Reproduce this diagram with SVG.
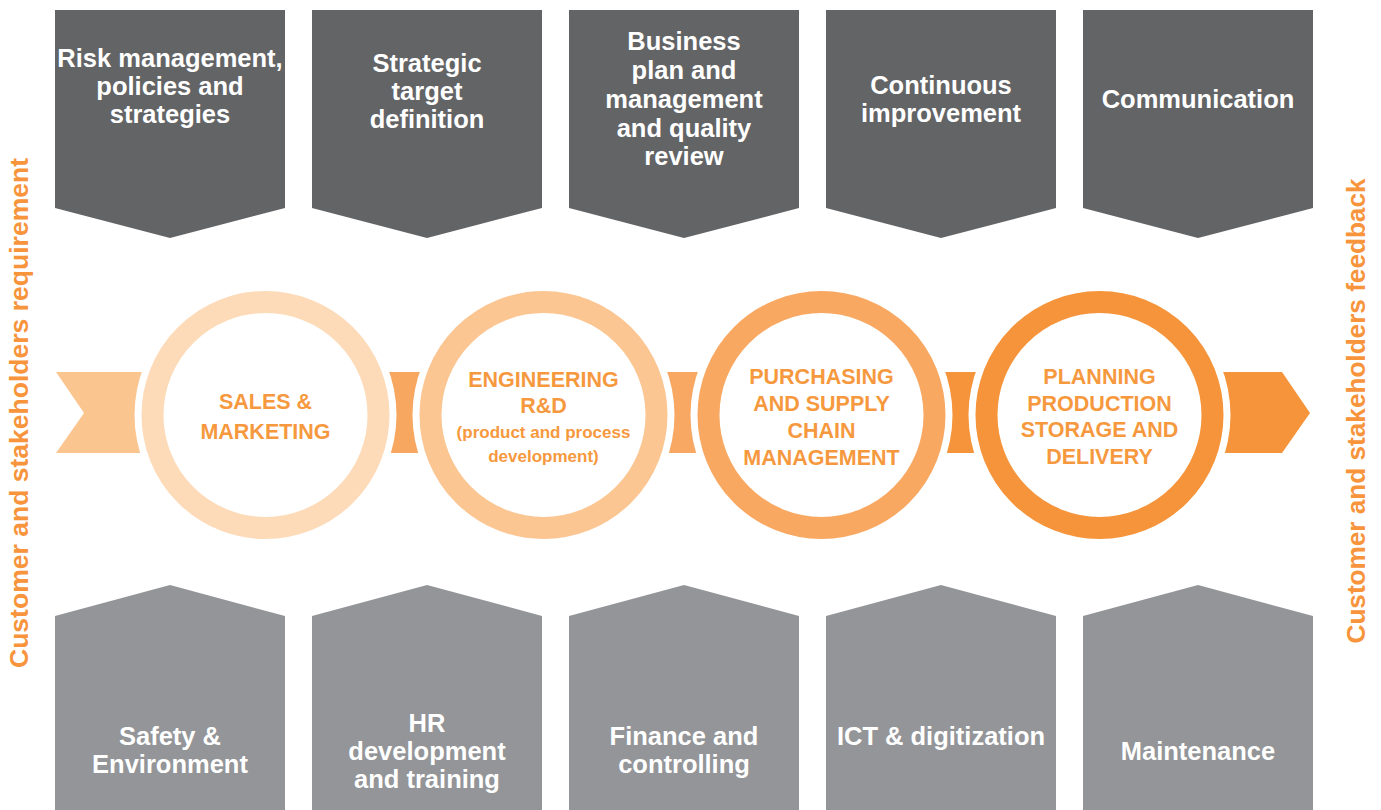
<svg xmlns="http://www.w3.org/2000/svg" width="1381" height="810" viewBox="0 0 1381 810">
<style>
  .top{fill:#636466}
  .bot{fill:#939598}
  .bt{font-family:"Liberation Sans",Arial,sans-serif;font-weight:bold;font-size:25.5px;fill:#ffffff;text-anchor:middle}
  .ct{font-family:"Liberation Sans",Arial,sans-serif;font-weight:bold;font-size:21.5px;fill:#f6993e;text-anchor:middle}
  .cs{font-size:17px}
  .side{font-family:"Liberation Sans",Arial,sans-serif;font-weight:bold;font-size:26px;fill:#f7943c;text-anchor:middle}
  .gap{fill:#ffffff}
  .ring{fill:#ffffff;stroke-width:22}
</style>
<rect width="1381" height="810" fill="#ffffff"/>

<!-- side labels -->
<text class="side" transform="translate(28,413) rotate(-90)" textLength="510" lengthAdjust="spacingAndGlyphs">Customer and stakeholders requirement</text>
<text class="side" transform="translate(1365,411) rotate(-90)" textLength="465" lengthAdjust="spacingAndGlyphs">Customer and stakeholders feedback</text>

<!-- top boxes -->
<g id="top1"><path class="top" d="M55,10 H285 V208 L170,238 L55,208 Z"/>
<text class="bt" x="170" y="67">Risk management,</text><text class="bt" x="170" y="95">policies and</text><text class="bt" x="170" y="123">strategies</text></g>
<g id="top2"><path class="top" d="M312,10 H542 V208 L427,238 L312,208 Z"/>
<text class="bt" x="427" y="72">Strategic</text><text class="bt" x="427" y="100">target</text><text class="bt" x="427" y="128">definition</text></g>
<g id="top3"><path class="top" d="M569,10 H799 V208 L684,238 L569,208 Z"/>
<text class="bt" x="684" y="50">Business</text><text class="bt" x="684" y="79">plan and</text><text class="bt" x="684" y="108">management</text><text class="bt" x="684" y="137">and quality</text><text class="bt" x="684" y="165">review</text></g>
<g id="top4"><path class="top" d="M826,10 H1056 V208 L941,238 L826,208 Z"/>
<text class="bt" x="941" y="94">Continuous</text><text class="bt" x="941" y="122">improvement</text></g>
<g id="top5"><path class="top" d="M1083,10 H1313 V208 L1198,238 L1083,208 Z"/>
<text class="bt" x="1198" y="108">Communication</text></g>

<!-- bottom boxes -->
<g id="bot1"><path class="bot" d="M55,616 L170,585 L285,616 V811 H55 Z"/>
<text class="bt" x="170" y="745">Safety &amp;</text><text class="bt" x="170" y="773">Environment</text></g>
<g id="bot2"><path class="bot" d="M312,616 L427,585 L542,616 V811 H312 Z"/>
<text class="bt" x="427" y="732">HR</text><text class="bt" x="427" y="760">development</text><text class="bt" x="427" y="788">and training</text></g>
<g id="bot3"><path class="bot" d="M569,616 L684,585 L799,616 V811 H569 Z"/>
<text class="bt" x="684" y="745">Finance and</text><text class="bt" x="684" y="773">controlling</text></g>
<g id="bot4"><path class="bot" d="M826,616 L941,585 L1056,616 V811 H826 Z"/>
<text class="bt" x="941" y="745">ICT &amp; digitization</text></g>
<g id="bot5"><path class="bot" d="M1083,616 L1198,585 L1313,616 V811 H1083 Z"/>
<text class="bt" x="1198" y="760">Maintenance</text></g>

<!-- connectors (flow band) -->
<g id="connectors">
  <path d="M56,372 H265 V453 H56 L84,413 Z" fill="#fbc590"/>
  <rect x="265" y="372" width="279" height="81" fill="#f8a761"/>
  <rect x="543" y="372" width="279" height="81" fill="#f8a862"/>
  <rect x="821" y="372" width="279" height="81" fill="#f5943a"/>
  <path d="M1099,372 H1282 L1310,413 L1282,453 H1099 Z" fill="#f5943a"/>
  <circle class="gap" cx="265.5" cy="415" r="131"/>
  <circle class="gap" cx="543.5" cy="415" r="131"/>
  <circle class="gap" cx="821.5" cy="415" r="131"/>
  <circle class="gap" cx="1099.5" cy="415" r="131"/>
</g>

<!-- circles -->
<g id="c1"><circle class="ring" cx="265.5" cy="415" r="113" stroke="#fddbb9"/>
<text class="ct" x="265.5" y="409">SALES &amp;</text><text class="ct" x="265.5" y="439">MARKETING</text></g>
<g id="c2"><circle class="ring" cx="543.5" cy="415" r="113" stroke="#fcc693"/>
<text class="ct" x="543.5" y="387">ENGINEERING</text><text class="ct" x="543.5" y="413">R&amp;D</text>
<text class="ct cs" x="543.5" y="438">(product and process</text><text class="ct cs" x="543.5" y="462">development)</text></g>
<g id="c3"><circle class="ring" cx="821.5" cy="415" r="113" stroke="#f9a862"/>
<text class="ct" x="821.5" y="384">PURCHASING</text><text class="ct" x="821.5" y="411">AND SUPPLY</text><text class="ct" x="821.5" y="438">CHAIN</text><text class="ct" x="821.5" y="465">MANAGEMENT</text></g>
<g id="c4"><circle class="ring" cx="1099.5" cy="415" r="113" stroke="#f5943a"/>
<text class="ct" x="1099.5" y="384">PLANNING</text><text class="ct" x="1099.5" y="410.5">PRODUCTION</text><text class="ct" x="1099.5" y="437">STORAGE AND</text><text class="ct" x="1099.5" y="463.5">DELIVERY</text></g>
</svg>
